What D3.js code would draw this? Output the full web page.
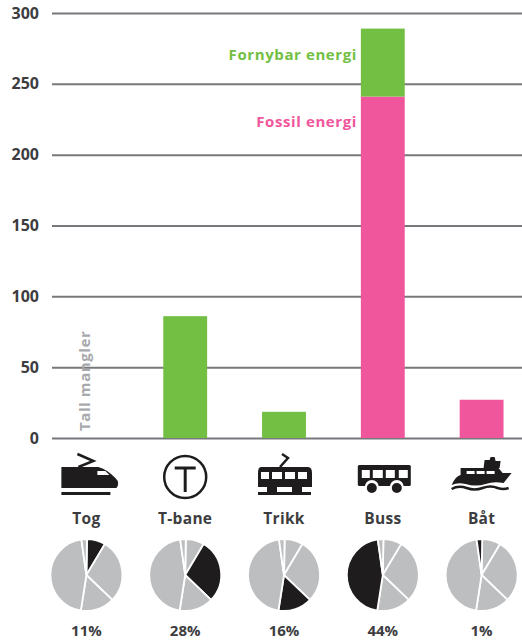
<!DOCTYPE html>
<html><head><meta charset="utf-8">
<script src="https://cdnjs.cloudflare.com/ajax/libs/d3/7.8.5/d3.min.js"></script>
<style>html,body{margin:0;padding:0;background:#fff}svg{display:block;font-family:"Open Sans",sans-serif;font-weight:700}</style>
</head><body><svg id="c" width="522" height="640"></svg>
<script>
const categories = ["Tog","T-bane","Trikk","Buss","Båt"];
const fossilValues = [0,0,0,241,27];
const renewableValues = [0,86,18.5,48,0];
const shareLabels = ["11%","28%","16%","44%","1%"];
const pieShares = [8.3,28.6,15.3,45.3,2.5];
const yTicks = [0,50,100,150,200,250,300];
const GREEN="#72bf44", PINK="#f0569c", GREY="#bcbec0", BLACK="#1f1c1d", INK="#3d3d3f";
const FONT='"Open Sans",sans-serif';

const svg=d3.select("#c");
const x=d3.scaleBand().domain(categories).range([37,531]).paddingInner(0.556).paddingOuter(0.278);
const y=d3.scaleLinear().domain([0,300]).range([438,13]);
const cx=c=>x(c)+x.bandwidth()/2;

// axis + gridlines
const ax=svg.append("g").attr("transform","translate(52,0)")
  .call(d3.axisLeft(y).tickValues(yTicks).tickSize(0).tickPadding(13));
ax.select(".domain").remove();
ax.selectAll("text").attr("font-family",FONT).attr("font-weight",700).attr("font-size",16).attr("fill",INK);
ax.selectAll(".tick").append("line").attr("x1",0).attr("x2",470).attr("stroke","#77787b").attr("stroke-width",2);

// bars
const bars=svg.append("g");
bars.selectAll("rect.f").data(categories).join("rect").attr("class","f")
  .attr("x",x).attr("width",x.bandwidth())
  .attr("y",(c,i)=>y(fossilValues[i])).attr("height",(c,i)=>y(0)-y(fossilValues[i])).attr("fill",PINK);
bars.selectAll("rect.r").data(categories).join("rect").attr("class","r")
  .attr("x",x).attr("width",x.bandwidth())
  .attr("y",(c,i)=>y(fossilValues[i]+renewableValues[i])).attr("height",(c,i)=>y(0)-y(renewableValues[i])).attr("fill",GREEN);

// annotations
const note=(sel,fill)=>sel.attr("font-size",15).attr("letter-spacing",0.6).attr("fill",fill);
svg.append("text").attr("x",357).attr("y",60).attr("text-anchor","end").call(note,GREEN).text("Fornybar energi");
svg.append("text").attr("x",357).attr("y",127).attr("text-anchor","end").call(note,PINK).text("Fossil energi");
svg.append("text").attr("transform","translate(90,431) rotate(-90)").call(note,"#a7a9ac").text("Tall mangler");

// icons (local glyph shapes, placed by the band scale)
const icons={
 "Tog":g=>{
  g.append("path").attr("d","M-25,-8L12,-8Q20,-6 29,3Q34,8 30,13L-25,13Z").attr("fill",BLACK);
  g.append("path").attr("d","M11,-4L19,-4L23,0L11,0Z").attr("fill","#fff");
  g.append("path").attr("d","M-8,-8L7,-14L-9,-21").attr("fill","none").attr("stroke",BLACK).attr("stroke-width",2.5);
  g.append("rect").attr("x",-25).attr("y",17).attr("width",49).attr("height",3).attr("fill",BLACK);
 },
 "T-bane":g=>{
  g.append("circle").attr("r",21).attr("cy",2).attr("fill","none").attr("stroke",BLACK).attr("stroke-width",2.5);
  g.append("path").attr("d","M-10.5,-7L10.5,-7M0,-7L0,17").attr("fill","none").attr("stroke",BLACK).attr("stroke-width",3);
 },
 "Trikk":g=>{
  g.append("path").attr("d","M-23,-8L24,-8Q28,-8 28,-2L28,12L-26,12L-26,-2Q-26,-8 -23,-8Z").attr("fill",BLACK);
  [[14,9],[1,10],[-12,10],[-23,8]].forEach(w=>g.append("rect").attr("x",w[0]).attr("y",-3).attr("width",w[1]).attr("height",7).attr("fill","#fff"));
  g.append("path").attr("d","M-4,-8L4,-17L-2,-21").attr("fill","none").attr("stroke",BLACK).attr("stroke-width",2.5);
  g.append("rect").attr("x",-17).attr("y",12).attr("width",10).attr("height",5).attr("fill",BLACK);
  g.append("rect").attr("x",8).attr("y",12).attr("width",10).attr("height",5).attr("fill",BLACK);
  g.append("rect").attr("x",-26).attr("y",17).attr("width",53).attr("height",3).attr("fill",BLACK);
 },
 "Buss":g=>{
  g.append("rect").attr("x",-25).attr("y",-10).attr("width",53).attr("height",21).attr("rx",1.5).attr("fill",BLACK);
  [[-21,8],[-10,10],[3,9],[16,9]].forEach(w=>g.append("rect").attr("x",w[0]).attr("y",-5).attr("width",w[1]).attr("height",8).attr("fill","#fff"));
  [-11,14].forEach(c=>{
    g.append("circle").attr("cx",c).attr("cy",12).attr("r",7).attr("fill","#fff");
    g.append("circle").attr("cx",c).attr("cy",13).attr("r",5).attr("fill",BLACK);
  });
 },
 "Båt":g=>{
  g.append("path").attr("d","M2,-7L3,-15L8,-15L9,-18L13,-18L14,-14L19,-14L18,-7Z").attr("fill",BLACK);
  g.append("path").attr("d","M-21,-7L17,-7L21,-2L30,-2L22,8Q12,6 4,9Q-6,12 -16,9Q-24,7 -30,10Q-26,1 -21,0Z").attr("fill",BLACK);
  [-15,-5,5].forEach(v=>g.append("rect").attr("x",v).attr("y",-4).attr("width",8).attr("height",3).attr("fill","#fff"));
  g.append("path").attr("d","M-30,14Q-23,10 -15,13Q-7,16 1,13Q9,10 16,13Q22,15 27,13").attr("fill","none").attr("stroke",BLACK).attr("stroke-width",2.5);
 }
};
categories.forEach(c=>{
  const g=svg.append("g").attr("transform",`translate(${cx(c)},475)`);
  icons[c](g);
});

// category names
svg.append("g").selectAll("text").data(categories).join("text")
  .attr("x",cx).attr("y",524).attr("text-anchor","middle").attr("font-size",15.5).attr("letter-spacing",0.3).attr("fill",INK).text(d=>d);

// pies
const pie=d3.pie().sort(null).startAngle(0.017).endAngle(2*Math.PI+0.017);
const arc=d3.arc().innerRadius(0).outerRadius(36);
const arcs=pie(pieShares);
categories.forEach((c,i)=>{
  const g=svg.append("g").attr("transform",`translate(${cx(c)},575)`);
  g.selectAll("path").data(arcs).join("path").attr("d",arc)
    .attr("fill",(d,j)=>j===i?BLACK:GREY).attr("stroke","#fff").attr("stroke-width",1.8);
});
svg.append("g").selectAll("text").data(categories).join("text")
  .attr("x",cx).attr("y",636).attr("text-anchor","middle").attr("font-size",15).attr("fill",INK).text((d,i)=>shareLabels[i]);
</script></body></html>
